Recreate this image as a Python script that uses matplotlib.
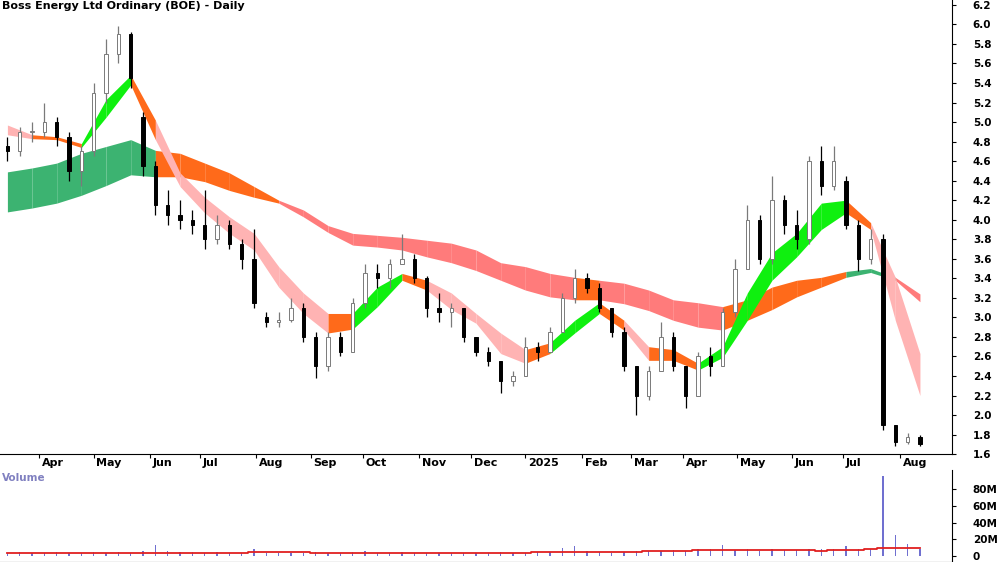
import numpy as np
import pandas as pd
import matplotlib
matplotlib.use("Agg")
import matplotlib.pyplot as plt

# weekly OHLC, week 0 = week of 11 Mar 2024
opens = [4.75, 4.7, 4.9, 4.9, 5.0, 4.85, 4.5, 4.7, 5.3, 5.7, 5.9, 5.05, 4.55, 4.15, 4.05, 4.0,
         3.95, 3.8, 3.95, 3.75, 3.6, 3.0, 2.95, 2.97, 3.1, 2.8, 2.5, 2.8, 2.65, 3.15, 3.45, 3.4,
         3.55, 3.6, 3.4, 3.1, 3.05, 3.1, 2.8, 2.65, 2.55, 2.35, 2.4, 2.7, 2.65, 2.85, 3.2, 3.4,
         3.3, 3.1, 2.85, 2.5, 2.2, 2.45, 2.8, 2.5, 2.2, 2.6, 2.5, 3.05, 3.5, 4.0, 3.6, 4.2,
         3.95, 3.8, 4.6, 4.35, 4.4, 3.95, 3.6, 3.8, 1.9, 1.72, 1.78]
highs = [4.85, 4.95, 5.0, 5.2, 5.05, 4.9, 4.75, 5.4, 5.85, 5.98, 5.92, 5.1, 4.6, 4.3, 4.2, 4.1,
         4.3, 4.05, 4.0, 3.8, 3.9, 3.05, 3.05, 3.2, 3.15, 2.85, 2.85, 2.85, 3.2, 3.55, 3.55, 3.6,
         3.85, 3.65, 3.42, 3.25, 3.15, 3.1, 2.8, 2.7, 2.55, 2.45, 2.8, 2.75, 2.9, 3.25, 3.5, 3.45,
         3.35, 3.1, 2.9, 2.5, 2.5, 2.95, 2.85, 2.5, 2.65, 2.7, 3.1, 3.6, 4.15, 4.05, 4.45, 4.25,
         4.1, 4.65, 4.75, 4.75, 4.45, 4.0, 3.9, 3.85, 1.9, 1.82, 1.8]
lows = [4.6, 4.65, 4.8, 4.85, 4.75, 4.4, 4.35, 4.65, 5.2, 5.6, 5.35, 4.45, 4.05, 3.95, 3.9, 3.85,
        3.7, 3.75, 3.7, 3.5, 3.1, 2.9, 2.9, 2.95, 2.75, 2.38, 2.45, 2.6, 2.65, 3.1, 3.3, 3.3,
        3.55, 3.35, 3.0, 2.95, 2.9, 2.75, 2.6, 2.5, 2.23, 2.3, 2.4, 2.55, 2.65, 2.85, 3.15, 3.25,
        3.05, 2.8, 2.45, 2.0, 2.15, 2.45, 2.45, 2.07, 2.2, 2.4, 2.5, 3.0, 3.5, 3.55, 3.55, 3.85,
        3.7, 3.75, 4.25, 4.3, 3.9, 3.48, 3.55, 1.85, 1.68, 1.7, 1.68]
closes = [4.7, 4.9, 4.9, 5.0, 4.85, 4.5, 4.7, 5.3, 5.7, 5.9, 5.45, 4.55, 4.15, 4.05, 4.0, 3.95,
          3.8, 3.95, 3.75, 3.6, 3.15, 2.95, 2.97, 3.1, 2.8, 2.5, 2.8, 2.65, 3.15, 3.45, 3.4, 3.55,
          3.6, 3.4, 3.1, 3.05, 3.1, 2.8, 2.65, 2.55, 2.35, 2.4, 2.7, 2.65, 2.85, 3.2, 3.4, 3.3,
          3.1, 2.85, 2.5, 2.2, 2.45, 2.8, 2.5, 2.2, 2.6, 2.5, 3.05, 3.5, 4.0, 3.6, 4.2, 3.95,
          3.8, 4.6, 4.35, 4.6, 3.95, 3.6, 3.8, 1.9, 1.72, 1.78, 1.7]
volumes = [4, 5, 4, 4, 5, 4, 4, 5, 4, 5, 4, 6, 13, 6, 5, 5,
           4, 5, 4, 4, 9, 4, 4, 4, 4, 5, 4, 4, 5, 6, 4, 4,
           5, 4, 4, 4, 4, 4, 4, 4, 5, 4, 4, 5, 5, 10, 12, 6,
           5, 4, 5, 6, 6, 6, 7, 6, 8, 9, 13, 7, 8, 6, 8, 7,
           7, 9, 8, 8, 12, 9, 8, 95, 25, 14, 9]
vol_avg = [4, 4, 4, 4, 4, 4, 4, 4, 4, 4, 4, 3.5, 4, 4, 4, 4,
           4, 4, 4, 4, 4.5, 4.5, 4.5, 4.5, 4.5, 4, 4, 4, 4, 4, 4, 4,
           4, 4, 4, 4, 4, 4, 4, 4, 4, 4, 4, 4.5, 4.5, 5, 5, 5,
           5, 5, 5, 5, 6, 6, 6, 6, 7, 7, 7, 7, 7, 7.5, 7.5, 7.5,
           7, 7, 6.5, 7, 7, 7, 8, 10, 10, 10, 10]

# GMMA ribbons every second week: short group (top, bottom), long group (top, bottom)
rib_weeks = list(range(0, 75, 2))
short_top = [4.97, 4.87, 4.85, 4.78, 5.23, 5.48, 5.02, 4.48, 4.23, 4.03, 3.86, 3.52, 3.25, 3.04,
             3.04, 3.31, 3.45, 3.38, 3.25, 3.04, 2.84, 2.67, 2.74, 2.97, 3.15, 2.97, 2.7, 2.67,
             2.53, 2.7, 3.25, 3.66, 3.86, 4.17, 4.2, 3.97, 3.41, 2.63]
short_bot = [4.87, 4.83, 4.82, 4.74, 5.05, 5.38, 4.82, 4.34, 4.07, 3.86, 3.69, 3.31, 3.04, 2.84,
             2.88, 3.11, 3.38, 3.28, 3.08, 2.94, 2.63, 2.53, 2.63, 2.84, 3.04, 2.87, 2.56, 2.56,
             2.46, 2.59, 2.97, 3.38, 3.62, 3.9, 4.07, 3.9, 2.97, 2.2]
long_top = [4.49, 4.53, 4.58, 4.68, 4.75, 4.82, 4.71, 4.68, 4.58, 4.48, 4.34, 4.2, 4.1, 3.94,
            3.86, 3.84, 3.82, 3.79, 3.76, 3.69, 3.56, 3.52, 3.45, 3.41, 3.38, 3.35, 3.28, 3.18,
            3.15, 3.11, 3.18, 3.31, 3.38, 3.41, 3.47, 3.5, 3.41, 3.24]
long_bot = [4.08, 4.12, 4.17, 4.25, 4.35, 4.46, 4.44, 4.44, 4.39, 4.3, 4.23, 4.17, 4.03, 3.87,
            3.74, 3.72, 3.69, 3.62, 3.56, 3.48, 3.38, 3.28, 3.21, 3.18, 3.18, 3.14, 3.07, 2.97,
            2.9, 2.87, 2.97, 3.08, 3.21, 3.31, 3.41, 3.46, 3.38, 3.16]
short_cols = "POOGGOPPPPPPPOGGOPPPPOGGOPOOGGGGGGOPP"
long_cols = "DDDDDDOOOOORRRRRRRRRRRRORRRRROOOOODDR"

palette = {"P": "#ffb3b3", "O": "#ff6a1a", "G": "#0ff00f", "D": "#3cb371", "R": "#ff7b7b"}

days = pd.bdate_range("2024-03-11", "2025-08-29")
week_x = np.array([k * 5 + 2 for k in range(len(closes))])
rib_x = np.array([k * 5 + 2 for k in rib_weeks])

fig = plt.figure(figsize=(10, 5.62), dpi=100)
ax = fig.add_axes([0.0, 0.192, 0.952, 0.808])
axv = fig.add_axes([0.0, 0.0, 0.952, 0.163])

for ribs, cols in [((long_top, long_bot), long_cols), ((short_top, short_bot), short_cols)]:
    top, bot = ribs
    for i in range(len(rib_x) - 1):
        ax.fill_between(rib_x[i:i + 2], bot[i:i + 2], top[i:i + 2],
                        color=palette[cols[i]], lw=0, zorder=1)

for x, o, h, l, c in zip(week_x, opens, highs, lows, closes):
    up = c >= o
    edge = "#7a7a7a" if up else "black"
    ax.vlines(x, l, h, color=edge, lw=0.9, zorder=2)
    ax.bar(x, max(abs(c - o), 0.01), bottom=min(o, c), width=1.3,
           color="white" if up else "black", edgecolor=edge, lw=0.7, zorder=3)

ax.set_xlim(-1, 385)
ax.set_ylim(1.6, 6.25)
axv.set_xlim(-1, 385)
axv.set_ylim(-7, 102)

ax.yaxis.tick_right()
ax.set_yticks(np.arange(1.6, 6.21, 0.2))
ax.set_yticklabels([f"{v:.1f}" for v in np.arange(1.6, 6.21, 0.2)], fontsize=7.5, fontweight="bold")
ax.tick_params(axis="y", length=3, pad=12)
for s in ["left", "top"]:
    ax.spines[s].set_visible(False)
    axv.spines[s].set_visible(False)

month_starts = pd.date_range("2024-04-01", "2025-08-01", freq="MS")
month_x = [days.searchsorted(d) for d in month_starts]
month_lbl = [("2025" if d.year == 2025 and d.month == 1 else d.strftime("%b")) for d in month_starts]
ax.set_xticks(month_x)
ax.set_xticklabels([])
ax.tick_params(axis="x", length=3, direction="out")
for mx, ml in zip(month_x, month_lbl):
    ax.text(mx + 1, 1.6 - 0.04, ml, ha="left", va="top", fontsize=8, fontweight="bold")

ax.text(0.002, 0.997, "Boss Energy Ltd Ordinary (BOE) - Daily", transform=ax.transAxes,
        ha="left", va="top", fontsize=8, fontweight="bold")

axv.bar(week_x, volumes, width=0.6, color="#7070d0", zorder=2)
axv.step(week_x, vol_avg, where="mid", color="#e02020", lw=1.3, zorder=3)
axv.yaxis.tick_right()
axv.set_yticks([0, 20, 40, 60, 80])
axv.set_yticklabels(["0", "20M", "40M", "60M", "80M"], fontsize=7.5, fontweight="bold")
axv.tick_params(axis="y", length=3, pad=12)
axv.set_xticks([])
axv.text(0.002, 0.97, "Volume", transform=axv.transAxes, ha="left", va="top",
         fontsize=7.5, fontweight="bold", color="#8080c0")

fig.savefig("out.png", dpi=100)
